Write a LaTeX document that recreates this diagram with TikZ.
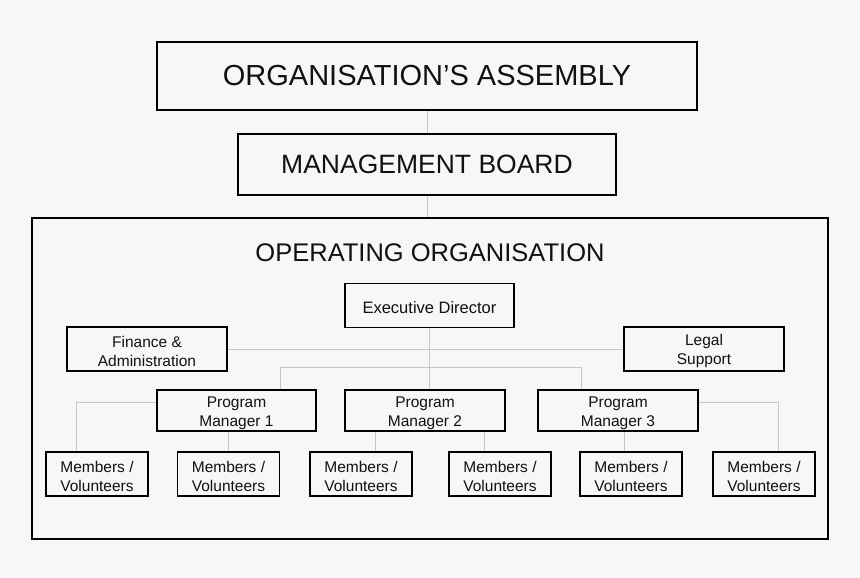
\documentclass[tikz,border=0pt]{standalone}
\usepackage{fontspec}
\setmainfont{Liberation Sans}
\usetikzlibrary{positioning}
\definecolor{paper}{RGB}{247,247,247}
\definecolor{ink}{RGB}{17,17,17}
\newcommand{\boxstrut}{\rule[-1pt]{0pt}{17pt}}
\newcommand{\twolines}[2]{\rule{0pt}{16pt}#1\\#2\rule[-1pt]{0pt}{1pt}}
\tikzset{every node/.style={font=\fontsize{15.5}{19}\selectfont, text=ink},
  box/.style={draw=black, line width=1.6pt, align=center, inner sep=0pt},
  unit/.style={box, minimum width=160pt, minimum height=44pt},
  member/.style={unit, minimum width=102pt},
  link/.style={draw=gray!45, line width=1pt}}

\begin{document}
\begin{tikzpicture}[x=1pt, y=-1pt]
  \fill[paper] (0,0) rectangle (860,578);
  \useasboundingbox (0,0) rectangle (860,578);
  % governing bodies
  \node[box, minimum width=540pt, minimum height=68pt, font=\fontsize{29}{34}\selectfont] (assembly) at (427,76) {ORGANISATION’S ASSEMBLY};
  \node[box, minimum width=378pt, minimum height=61pt, font=\fontsize{26.5}{32}\selectfont] (board) at (427,164.5) {MANAGEMENT BOARD};
  \node[box, minimum width=796pt, minimum height=321pt] (op) at (430,378.5) {};
  \node[font=\fontsize{25.5}{30}\selectfont] (optitle) at (430,253) {OPERATING ORGANISATION};
  % operating organisation
  \node[box, minimum width=169pt, minimum height=44pt, font=\fontsize{16.5}{20}\selectfont,
    execute at begin node=\boxstrut] (exec) at (429.5,305.5) {Executive Director};
  \node[unit] (fin) at (147,349) {\twolines{Finance \&}{Administration}};
  \node[unit] (legal) at (704,349) {\twolines{Legal}{Support}};
  \node[unit, minimum width=159pt, minimum height=41pt] (pm1) at (236.5,410.5) {\twolines{Program}{Manager 1}};
  \node[unit, minimum height=41pt] (pm2) at (425,410.5) {\twolines{Program}{Manager 2}};
  \node[unit, minimum height=41pt] (pm3) at (618,410.5) {\twolines{Program}{Manager 3}};
  \foreach \n/\x in {1/97, 2/228.5, 3/361, 4/500, 5/631, 6/764}
    \node[member] (m\n) at (\x,474) {\twolines{Members /}{Volunteers}};
  \begin{scope}[link]
    \draw (assembly.south) -- (board.north);
    \draw (board.south) -- (board.south |- op.north);
    \draw (fin.east) -- (legal.west);
    \draw (exec.south) -- (exec.south |- pm2.north);
    \draw ([xshift=44pt]pm1.north) -- ++(0,22pt) -| ([xshift=-37pt]pm3.north);
    \draw ([yshift=8pt]pm1.west) -| ([xshift=-21pt]m1.north);
    \draw (m2.north) -- (m2.north |- pm1.south);
    \draw ([xshift=14pt]m3.north) coordinate (c3) -- (c3 |- pm2.south);
    \draw ([xshift=-16pt]m4.north) coordinate (c4) -- (c4 |- pm2.south);
    \draw ([xshift=-7pt]m5.north) coordinate (c5) -- (c5 |- pm3.south);
    \draw ([yshift=8pt]pm3.east) -| ([xshift=14pt]m6.north);
  \end{scope}
\end{tikzpicture}
\end{document}
